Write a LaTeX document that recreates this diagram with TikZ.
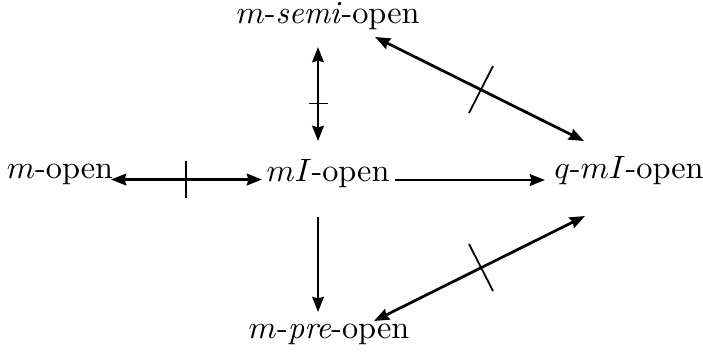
\documentclass[tikz,border=0pt]{standalone}
\usetikzlibrary{arrows.meta}
\begin{document}
\begin{tikzpicture}[x=0.31pt,y=-0.31pt,
  lbl/.style={anchor=base,inner sep=0pt,font=\normalsize},
  tipa/.tip={Stealth[length=4.7pt,width=3.6pt,inset=0.5pt]},
  conn/.style={line width=0.85pt,-tipa},
  biconn/.style={line width=0.85pt,tipa-tipa},
  tickmark/.style={line width=0.55pt}]
\useasboundingbox (0,0) rectangle (703,356);
% nodes
\node[lbl] (semi) at (328,23) {$m$-\textit{semi}-open};
\node[lbl] (mopen) at (60,178) {$m$-open};
\node[lbl] (mi) at (328,181) {$mI$-open};
\node[lbl] (qmi) at (629,178) {$q$-$mI$-open};
\node[lbl] (pre) at (329,338) {$m$-\textit{pre}-open};
% connector end points
\coordinate (v1a) at (318,47);
\coordinate (v1b) at (318,141);
\coordinate (h1a) at (111,179.5);
\coordinate (h1b) at (262,179.5);
\coordinate (h2a) at (395,180);
\coordinate (h2b) at (545,180);
\coordinate (v2a) at (318,217);
\coordinate (v2b) at (318,312);
\coordinate (d1a) at (375,37);
\coordinate (d1b) at (584,141);
\coordinate (d2a) at (374,321);
\coordinate (d2b) at (585,216);
% tick marks
\coordinate (t1a) at (309,103.5);
\coordinate (t1b) at (328,103.5);
\coordinate (t2a) at (186,160.5);
\coordinate (t2b) at (186,197.5);
\coordinate (t3a) at (469,113);
\coordinate (t3b) at (493,66);
\coordinate (t4a) at (469,244);
\coordinate (t4b) at (493,291);
% connectors
\draw[biconn] (v1a) -- (v1b);
\draw[biconn] (h1a) -- (h1b);
\draw[conn] (h2a) -- (h2b);
\draw[conn] (v2a) -- (v2b);
\draw[biconn] (d1a) -- (d1b);
\draw[biconn] (d2a) -- (d2b);
\draw[tickmark] (t1a) -- (t1b);
\draw[tickmark] (t2a) -- (t2b);
\draw[tickmark] (t3a) -- (t3b);
\draw[tickmark] (t4a) -- (t4b);
\end{tikzpicture}
\end{document}
